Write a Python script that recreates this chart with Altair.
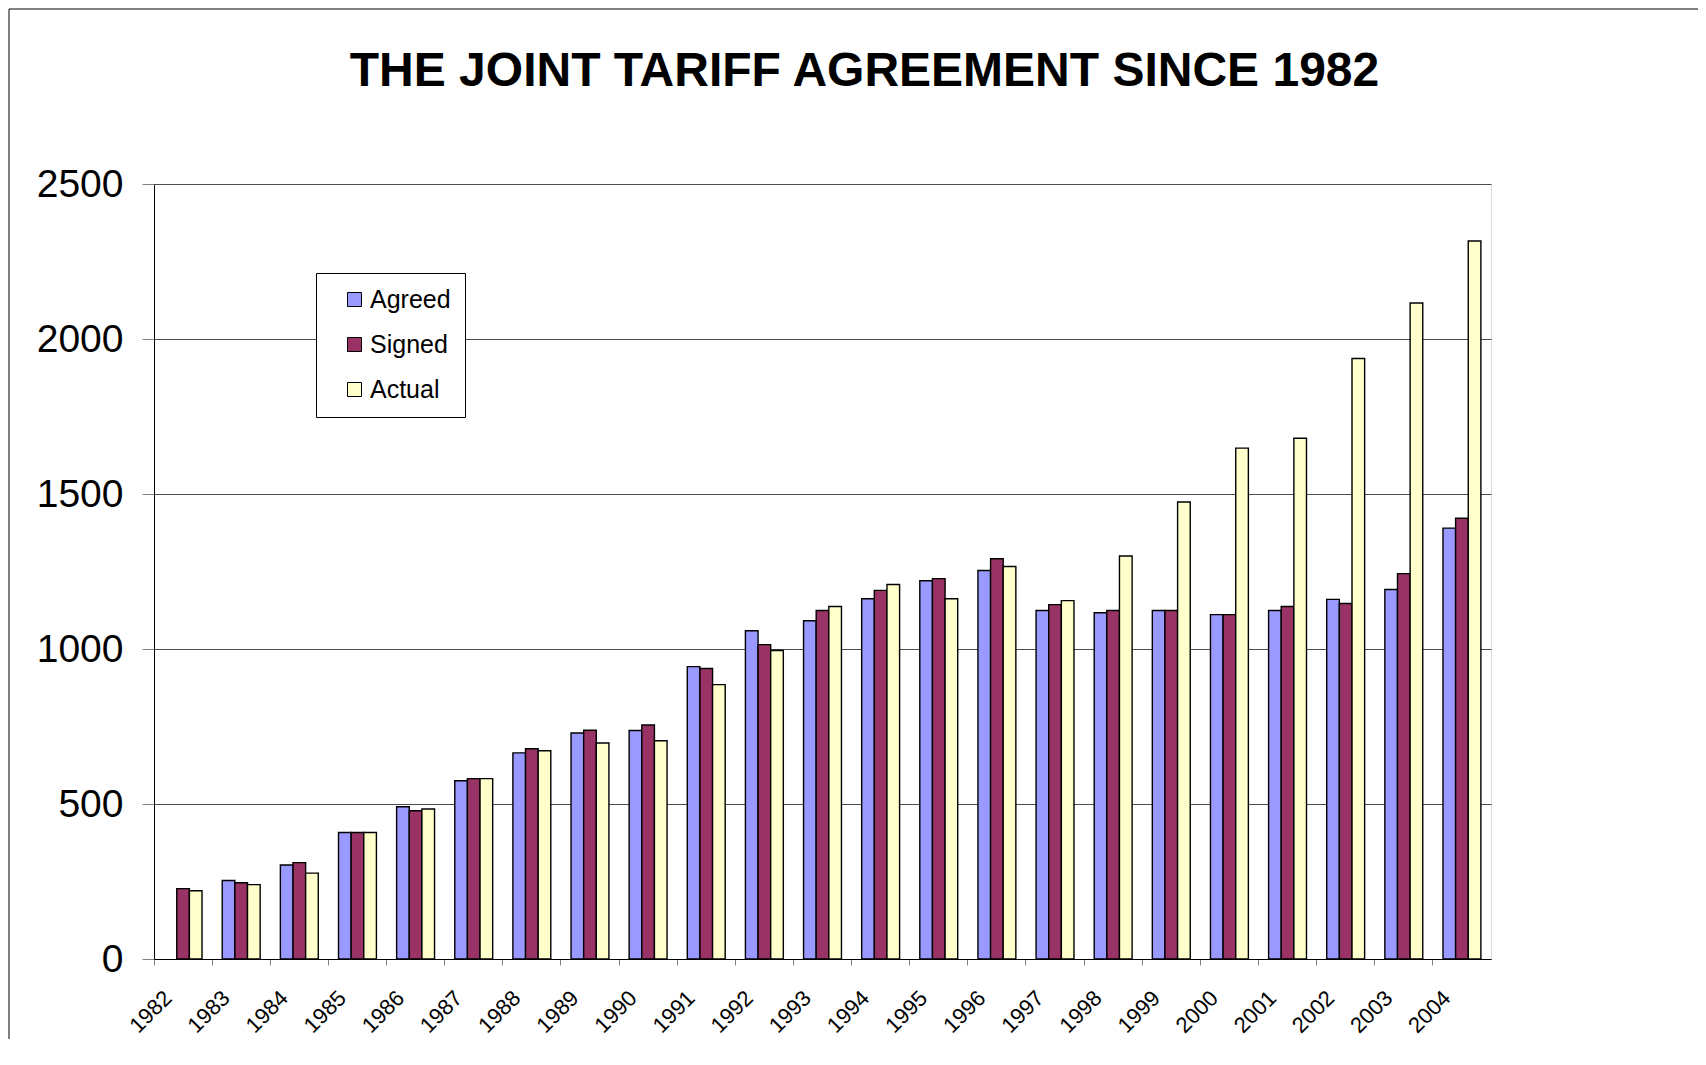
import altair as alt
import pandas as pd

years = ["1982", "1983", "1984", "1985", "1986", "1987", "1988", "1989", "1990",
         "1991", "1992", "1993", "1994", "1995", "1996", "1997", "1998", "1999",
         "2000", "2001", "2002", "2003", "2004"]
agreed = [None, 253, 303, 408, 491, 575, 665, 729, 737, 943, 1059, 1091, 1162,
          1220, 1253, 1124, 1117, 1124, 1111, 1124, 1160, 1192, 1390]
signed = [227, 246, 311, 408, 478, 582, 678, 738, 755, 937, 1014, 1124, 1189,
          1227, 1291, 1143, 1124, 1124, 1111, 1137, 1147, 1243, 1422]
actual = [220, 240, 277, 408, 484, 582, 672, 697, 704, 885, 995, 1137, 1208,
          1162, 1266, 1156, 1300, 1474, 1648, 1680, 1937, 2116, 2316]
series = ["Agreed", "Signed", "Actual"]
colors = ["#9999FF", "#993366", "#FFFFCC"]
y_ticks = [0, 500, 1000, 1500, 2000, 2500]

rows = []
for name, vals in zip(series, [agreed, signed, actual]):
    for yr, v in zip(years, vals):
        rows.append({"year": yr, "series": name, "value": v})
df = pd.DataFrame(rows)

FONT = "Liberation Sans"

bars = alt.Chart(df).mark_bar(stroke="black", strokeWidth=1.4).encode(
    x=alt.X(
        "year:N", sort=years,
        scale=alt.Scale(paddingInner=0, paddingOuter=0),
        axis=alt.Axis(
            title=None, labelAngle=-45, bandPosition=0, labelFontSize=22,
            labelFont=FONT, labelColor="black", tickSize=6, tickColor="#808080",
            domainColor="black", labelPadding=22, labelOffset=-22, grid=False,
            labelAlign="right", labelBaseline="top",
        ),
    ),
    xOffset=alt.XOffset(
        "series:N", sort=series,
        scale=alt.Scale(domain=series, paddingOuter=0.8, paddingInner=0),
    ),
    y=alt.Y(
        "value:Q",
        scale=alt.Scale(domain=[0, 2500], nice=False),
        axis=alt.Axis(
            title=None, values=y_ticks, format="d", labelFontSize=39,
            labelFont=FONT, labelColor="black", tickSize=12,
            tickColor="#808080", domainColor="black", labelPadding=19,
            grid=True, gridColor="#4d4d4d", gridWidth=1,
        ),
    ),
    color=alt.Color(
        "series:N", sort=series,
        scale=alt.Scale(domain=series, range=colors),
        legend=alt.Legend(
            title=None, orient="none", legendX=162, legendY=89,
            fillColor="white", strokeColor="black", padding=14,
            symbolOffset=12, rowPadding=19, labelOffset=3,
            symbolType="square", symbolSize=196, symbolStrokeColor="black",
            symbolStrokeWidth=1, labelFontSize=25, labelFont=FONT,
            labelColor="black",
        ),
    ),
)

frame = alt.Chart(pd.DataFrame({"f": [0]})).mark_rect(
    fillOpacity=0, stroke="black", strokeWidth=1
).encode(
    x=alt.value(-145), x2=alt.value(1700), y=alt.value(-175), y2=alt.value(1000)
)

chart = alt.layer(frame, bars).properties(
    width=1337,
    height=775,
    padding={"left": 146, "top": 176, "right": 207, "bottom": 80},
    autosize="none",
    title=alt.Title(
        "THE JOINT TARIFF AGREEMENT SINCE 1982", fontSize=48, font=FONT,
        fontWeight="bold", anchor="middle", frame="group", dx=42, offset=-125,
        baseline="alphabetic", color="black",
    ),
).configure_view(
    fill="#C0C0C0", stroke="#808080", strokeWidth=1
).configure(background="white")

chart.save("out.html", embed_options={"renderer": "svg", "actions": False})
